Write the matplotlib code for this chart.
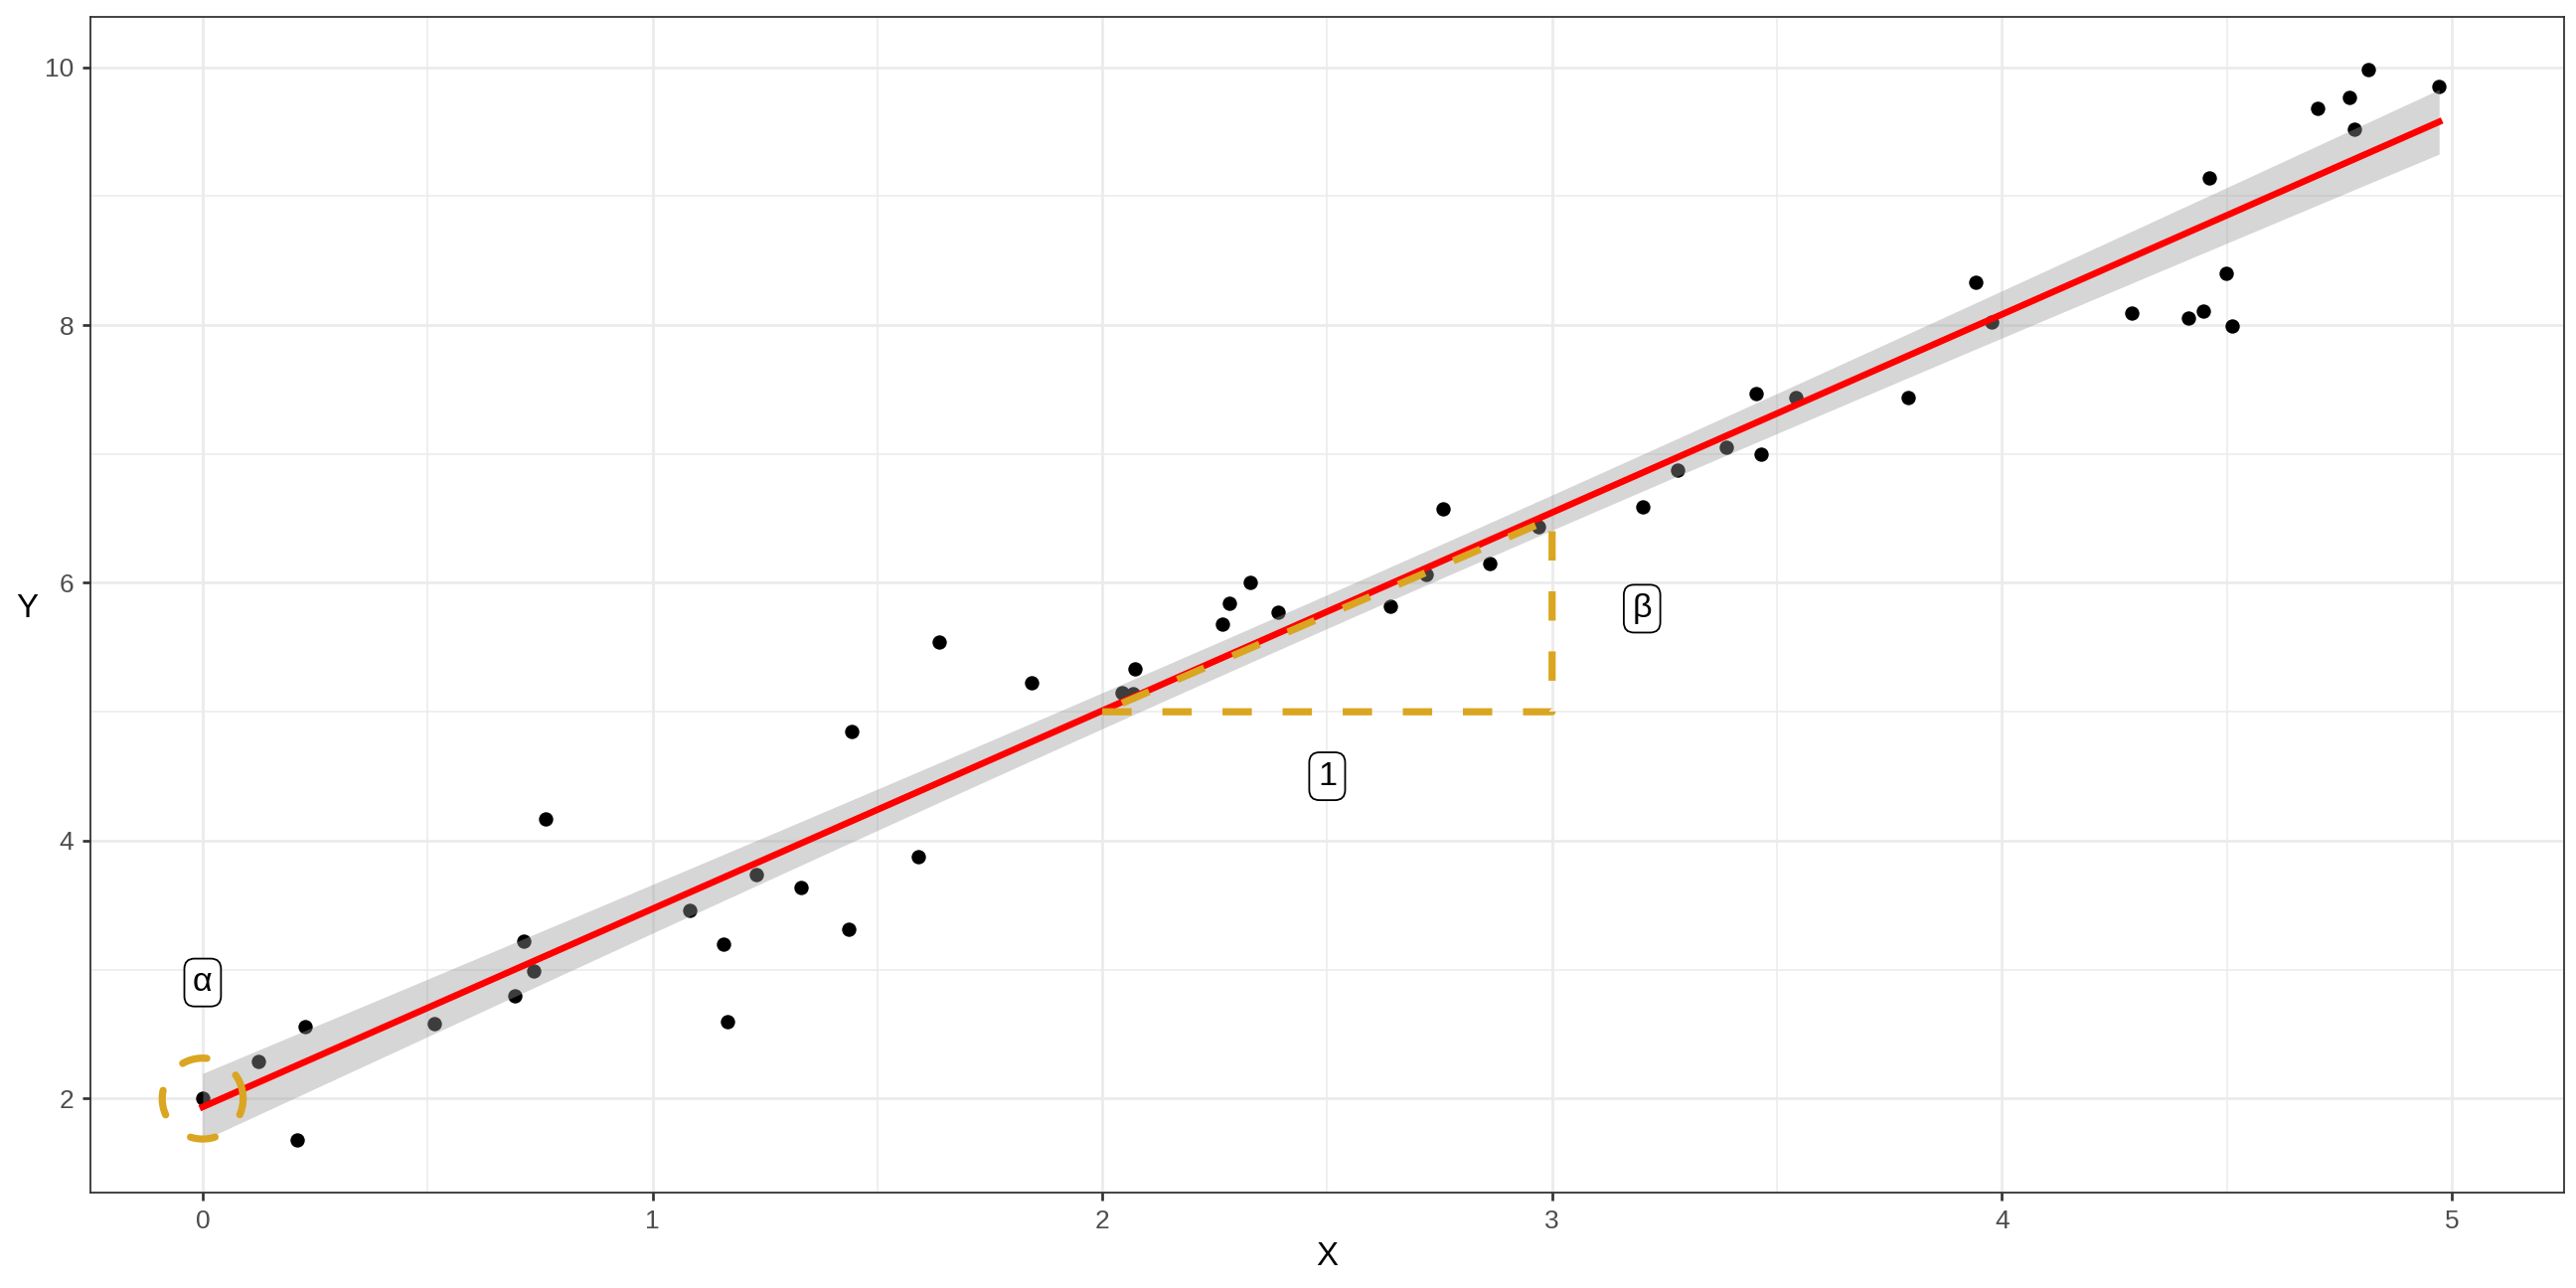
import numpy as np
import matplotlib
matplotlib.use("Agg")
import matplotlib.pyplot as plt
from matplotlib.transforms import Affine2D, ScaledTranslation

# data
x_vals = [0.000, 0.123, 0.211, 0.228, 0.515, 0.695, 0.714, 0.736, 0.763, 1.082,
          1.159, 1.166, 1.231, 1.330, 1.437, 1.444, 1.590, 1.638, 1.843, 2.044,
          2.068, 2.072, 2.266, 2.283, 2.329, 2.390, 2.640, 2.719, 2.757, 2.862,
          2.970, 3.201, 3.278, 3.387, 3.453, 3.464, 3.542, 3.792, 3.942, 3.978,
          4.289, 4.414, 4.447, 4.461, 4.499, 4.511, 4.702, 4.773, 4.784, 4.815,
          4.972]
y_vals = [2.000, 2.292, 1.683, 2.556, 2.584, 2.797, 3.222, 2.990, 4.168, 3.457,
          3.200, 2.594, 3.740, 3.639, 3.313, 4.850, 3.875, 5.543, 5.224, 5.149,
          5.144, 5.335, 5.678, 5.838, 6.000, 5.776, 5.817, 6.064, 6.577, 6.147,
          6.438, 6.590, 6.877, 7.051, 7.469, 6.995, 7.441, 7.436, 8.328, 8.026,
          8.090, 8.054, 8.108, 9.141, 8.401, 7.995, 9.681, 9.763, 9.522, 9.982,
          9.848]

x_ticks = [0, 1, 2, 3, 4, 5]
x_minor = [0.5, 1.5, 2.5, 3.5, 4.5]
y_ticks = [2, 4, 6, 8, 10]
y_minor = [3, 5, 7, 9]

# annotations
alpha_xy = (0, 2)
alpha_label = ("α", 0, 2.9)
tri_x = [2, 3, 3, 2]
tri_y = [5, 5, 6.5, 5]
one_label = ("1", 2.5, 4.5)
beta_label = ("β", 3.2, 5.8)

gold = "#DAA520"

plt.rcParams['font.family'] = ['Liberation Sans', 'DejaVu Sans']

fig = plt.figure(figsize=(12, 6), dpi=216)
ax = fig.add_axes([0.0352, 0.0737, 0.9602, 0.9129])

# points first, so the ribbon shades them like ggplot does
ax.plot(x_vals, y_vals, 'o', color='black', markersize=4.8, markeredgewidth=0, zorder=2)

# lm fit + 95% band
x = np.array(x_vals)
y = np.array(y_vals)
n = len(x)
slope, intercept = np.polyfit(x, y, 1)
xs = np.linspace(x.min(), x.max(), 80)
fit = intercept + slope * xs
resid = y - (intercept + slope * x)
s = np.sqrt(np.sum(resid ** 2) / (n - 2))
se = s * np.sqrt(1 / n + (xs - x.mean()) ** 2 / np.sum((x - x.mean()) ** 2))
t95 = 2.01
ax.fill_between(xs, fit - t95 * se, fit + t95 * se, color='#999999', alpha=0.4,
                linewidth=0, zorder=3)
ax.plot(xs, fit, color='#FF0000', linewidth=2.2, zorder=4)

# slope triangle
ax.plot(tri_x, tri_y, color=gold, linewidth=2.4, linestyle=(0, (4.1, 4.3)),
        dash_capstyle='butt', solid_joinstyle='round', zorder=5)

# dashed circle round the intercept (circular in pixels)
theta = np.linspace(0, 2 * np.pi, 200)
r_px = 40.7
circ_tr = Affine2D().scale(r_px) + ScaledTranslation(alpha_xy[0], alpha_xy[1], ax.transData)
ax.plot(np.cos(theta), np.sin(theta), transform=circ_tr, color=gold, linewidth=2.4,
        linestyle=(0, (3.5, 4.8)), dash_capstyle='round', zorder=5)

box = dict(boxstyle='round,pad=0.25,rounding_size=0.3', fc='white', ec='black', lw=0.6)
for txt, lx, ly in [alpha_label, one_label, beta_label]:
    ax.text(lx, ly, txt, fontsize=11.4, ha='center', va='center', bbox=box, zorder=6)

ax.set_xlim(-0.249, 5.25)
ax.set_ylim(1.267, 10.387)
ax.set_xticks(x_ticks)
ax.set_xticks(x_minor, minor=True)
ax.set_yticks(y_ticks)
ax.set_yticks(y_minor, minor=True)
ax.grid(which='major', color='#EBEBEB', linewidth=0.9, zorder=0)
ax.grid(which='minor', color='#EBEBEB', linewidth=0.5, zorder=0)
ax.set_axisbelow(True)
ax.tick_params(which='major', length=2.75, width=0.9, color='#333333',
               labelsize=8.8, labelcolor='#4D4D4D', pad=2.9)
ax.tick_params(which='minor', length=0)
for sp in ax.spines.values():
    sp.set_color('#333333')
    sp.set_linewidth(0.6)

fig.text(0.0352 + 0.9602 / 2, 1 - 1273 / 1296, "X", fontsize=11, ha='center', va='baseline')
fig.text(27.5 / 2592, 1 - 621 / 1296, "Y", fontsize=11, ha='center', va='baseline')

fig.savefig("out.png", dpi=216, facecolor='white')
